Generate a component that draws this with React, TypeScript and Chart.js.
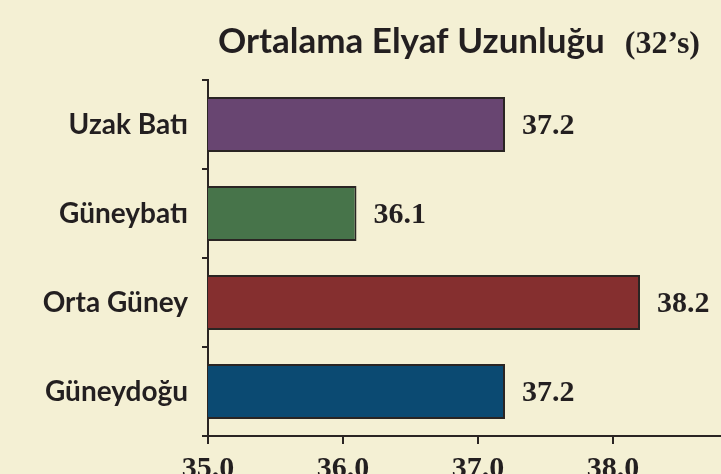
import React, { useEffect, useRef } from "react";
import { Chart, registerables } from "chart.js";

Chart.register(...registerables);

const categories = ["Uzak Batı", "Güneybatı", "Orta Güney", "Güneydoğu"];
const values = [37.2, 36.1, 38.2, 37.2];
const barColors = ["#684571", "#47744a", "#852f2f", "#0b4a72"];
const titleMain = "Ortalama Elyaf Uzunluğu";
const titleSuffix = "(32’s)";
const xMin = 35;
const xMax = 39;

const INK = "#231f20";
const BG = "#f4f0d4";

const CANVAS_W = 820;
const CANVAS_H = 500;

const valueLabelPlugin = {
  id: "valueLabels",
  afterDatasetsDraw(chart: any) {
    const ctx = chart.ctx;
    const meta = chart.getDatasetMeta(0);
    ctx.save();
    ctx.fillStyle = INK;
    ctx.font = "bold 30px 'Liberation Serif'";
    ctx.textAlign = "left";
    ctx.textBaseline = "middle";
    meta.data.forEach((bar: any, i: number) => {
      ctx.fillText(values[i].toFixed(1), bar.x + 17, bar.y + 2);
    });
    ctx.restore();
  },
};

const titlePlugin = {
  id: "mixedTitle",
  afterDraw(chart: any) {
    const ctx = chart.ctx;
    ctx.save();
    ctx.fillStyle = INK;
    ctx.textBaseline = "alphabetic";
    ctx.textAlign = "right";
    const right = 700;
    const baseY = 53;
    ctx.font = "bold 32px 'Liberation Serif'";
    const w = ctx.measureText(titleSuffix).width;
    ctx.fillText(titleSuffix, right, baseY);
    ctx.font = "bold 35px Lato";
    ctx.fillText(titleMain, right - w - 20, baseY);
    ctx.restore();
  },
};

export default function App() {
  const canvasRef = useRef<HTMLCanvasElement | null>(null);

  useEffect(() => {
    if (!canvasRef.current) return;
    const chart = new Chart(canvasRef.current, {
      type: "bar",
      data: {
        labels: categories,
        datasets: [
          {
            data: values,
            backgroundColor: barColors,
            borderColor: "#2a2523",
            borderWidth: 2,
            borderSkipped: false,
            barPercentage: 0.62,
            categoryPercentage: 1,
          },
        ],
      },
      options: {
        indexAxis: "y",
        responsive: false,
        animation: false,
        devicePixelRatio: 1,
        layout: { padding: { top: 80, left: 0, right: 72, bottom: 0 } },
        plugins: {
          legend: { display: false },
          title: { display: false },
          tooltip: { enabled: false },
        },
        scales: {
          x: {
            type: "linear",
            min: xMin,
            max: xMax,
            afterFit(scale: any) {
              scale.height = CANVAS_H - 436;
            },
            ticks: {
              stepSize: 1,
              color: INK,
              font: { family: "'Liberation Serif'", weight: "bold", size: 30 },
              padding: 7,
              callback: (v: any) => (Number(v) >= xMax ? "" : Number(v).toFixed(1)),
            },
            grid: {
              drawOnChartArea: false,
              drawTicks: true,
              tickLength: 8,
              color: "#2a2523",
              lineWidth: 2,
            },
            border: { display: true, color: "#2a2523", width: 2 },
          },
          y: {
            afterFit(scale: any) {
              scale.width = 208;
            },
            ticks: {
              color: INK,
              font: { family: "Lato", weight: "bold", size: 28 },
              padding: 14,
            },
            grid: {
              offset: true,
              drawOnChartArea: false,
              drawTicks: true,
              tickLength: 6,
              color: "#2a2523",
              lineWidth: 2,
            },
            border: { display: true, color: "#2a2523", width: 2 },
          },
        },
      },
      plugins: [valueLabelPlugin, titlePlugin],
    } as any);
    return () => chart.destroy();
  }, []);

  return (
    <div
      style={{
        position: "fixed",
        left: 0,
        top: 0,
        width: 721,
        height: 474,
        overflow: "hidden",
        background: BG,
      }}
    >
      <canvas
        ref={canvasRef}
        width={CANVAS_W}
        height={CANVAS_H}
        style={{ display: "block", width: CANVAS_W, height: CANVAS_H }}
      />
    </div>
  );
}
